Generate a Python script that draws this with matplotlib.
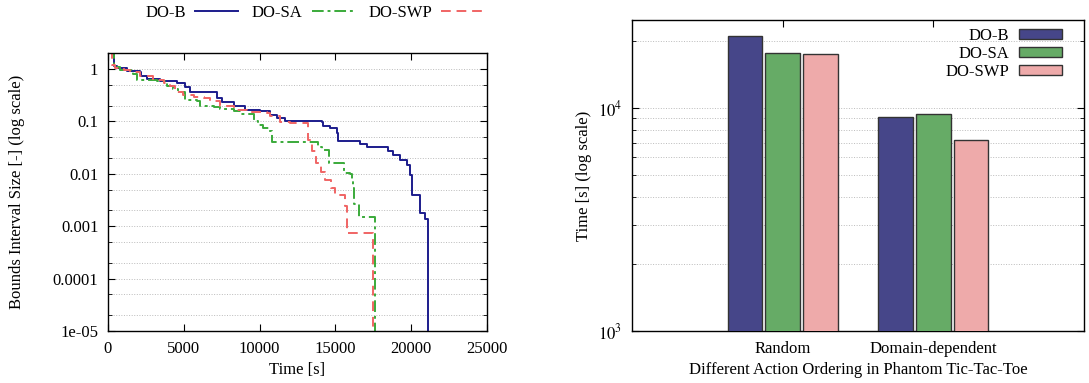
import numpy as np
import matplotlib.pyplot as plt
from matplotlib.ticker import LogLocator, FixedLocator, NullFormatter, FixedFormatter

plt.rcParams['font.family'] = ['Liberation Serif', 'DejaVu Serif']
plt.rcParams['mathtext.fontset'] = 'stix'
plt.rcParams['font.size'] = 12

# ---- left panel: bounds interval size over time (step curves) ----
dob_t = [0, 370, 590, 1250, 2130, 2200, 2570, 3450, 4100, 4540, 5090, 5420, 6740, 7180, 7500,
         8280, 9040, 10030, 10690, 11130, 11680, 13100, 14090, 14200, 14640, 15080, 15190,
         16400, 16650, 17060, 18370, 18500, 18810, 19250, 19690, 19950, 20060, 20460, 20570,
         20900, 21120, 21120]
dob_v = [2.0, 1.12, 1.05, 0.9, 0.86, 0.75, 0.65, 0.6, 0.58, 0.54, 0.45, 0.36, 0.36, 0.28, 0.23,
         0.2, 0.167, 0.16, 0.134, 0.116, 0.1, 0.1, 0.096, 0.08, 0.074, 0.06, 0.043,
         0.043, 0.037, 0.033, 0.032, 0.027, 0.023, 0.018, 0.015, 0.0096, 0.004, 0.004, 0.0018,
         0.0014, 0.0014, 1e-7]

dosa_t = [0, 370, 810, 1470, 1650, 1910, 2570, 3200, 3890, 4320, 4650, 5090, 5860, 6080, 6960,
          7400, 8280, 8710, 9590, 9600, 9920, 10250, 10650, 10800, 13430, 13870, 14090, 14530,
          14600, 15520, 15560, 15960, 16070, 16180, 16230, 16510, 16570, 17600, 17600]
dosa_v = [2.0, 1.1, 0.97, 0.97, 0.81, 0.62, 0.62, 0.58, 0.48, 0.41, 0.36, 0.26, 0.24, 0.2, 0.19,
          0.17, 0.155, 0.14, 0.14, 0.1, 0.087, 0.074, 0.067, 0.041, 0.041, 0.033, 0.029, 0.029,
          0.016, 0.016, 0.0103, 0.01, 0.0072, 0.0053, 0.0026, 0.0026, 0.0015, 0.0015, 1e-7]

doswp_t = [0, 260, 480, 1030, 1470, 2130, 3000, 3670, 4100, 4430, 4980, 5640, 6300, 6740, 7400,
           8280, 9150, 10030, 10470, 10690, 11350, 12000, 13100, 13210, 13430, 13720, 14030,
           14310, 14700, 14970, 15520, 15630, 15740, 17320, 17450, 17450]
doswp_v = [2.0, 1.2, 1.05, 0.97, 0.86, 0.72, 0.62, 0.54, 0.48, 0.37, 0.32, 0.29, 0.28, 0.24, 0.2,
           0.167, 0.15, 0.149, 0.144, 0.125, 0.096, 0.093, 0.093, 0.045, 0.027, 0.016, 0.0106,
           0.0077, 0.0053, 0.004, 0.004, 0.0024, 0.00074, 0.00074, 0.0004, 1e-7]

# ---- right panel: total time per action ordering ----
orderings = ['Random', 'Domain-dependent']
time_dob = [21000, 9100]
time_dosa = [17600, 9400]
time_doswp = [17500, 7170]

fig = plt.figure(figsize=(10.89, 3.83), dpi=100)

ax1 = fig.add_axes([108 / 1089, 52 / 383, 379 / 1089, 278 / 383])
ax1.step(dob_t, dob_v, where='post', color='#1c1c8c', lw=1.4, label='DO-B')
ax1.step(dosa_t, dosa_v, where='post', color='#3aaa3a', lw=1.4, dashes=(6, 2, 1.5, 2), label='DO-SA')
ax1.step(doswp_t, doswp_v, where='post', color='#f06464', lw=1.4, dashes=(5, 3), label='DO-SWP')
ax1.set_yscale('log')
ax1.set_xlim(0, 25000)
ax1.set_ylim(1e-5, 2.02)
ax1.set_xticks([0, 5000, 10000, 15000, 20000, 25000])
ax1.yaxis.set_major_locator(FixedLocator([1e-5, 1e-4, 1e-3, 1e-2, 1e-1, 1]))
ax1.yaxis.set_major_formatter(FixedFormatter(['1e-05', '0.0001', '0.001', '0.01', '0.1', '1']))
ax1.yaxis.set_minor_locator(LogLocator(base=10, subs=(2.0, 5.0), numticks=20))
ax1.yaxis.set_minor_formatter(NullFormatter())
ax1.grid(True, axis='y', which='both', color='#bbbbbb', ls=':', lw=0.7)
ax1.tick_params(direction='in', top=True, right=True, which='both')
ax1.tick_params(which='major', length=5, pad=7)
ax1.tick_params(which='minor', length=3)
ax1.set_xlabel('Time [s]', labelpad=4)
ax1.set_ylabel('Bounds Interval Size [-] (log scale)', labelpad=20)
for s in ax1.spines.values():
    s.set_linewidth(1.0)

fig.legend(loc='center', bbox_to_anchor=(315 / 1089, 1 - 13 / 383), ncol=3, frameon=False,
           markerfirst=False, handlelength=2.6, handletextpad=0.55, columnspacing=0.8,
           borderpad=0)

ax2 = fig.add_axes([632 / 1089, 52 / 383, 452 / 1089, 311 / 383])
x = np.arange(1, len(orderings) + 1)
w = 0.228
ax2.bar(x - 0.25, time_dob, w, color='#464689', edgecolor='#333333', lw=1, label='DO-B', zorder=3)
ax2.bar(x, time_dosa, w, color='#66ab66', edgecolor='#333333', lw=1, label='DO-SA', zorder=3)
ax2.bar(x + 0.25, time_doswp, w, color='#eeaaaa', edgecolor='#333333', lw=1, label='DO-SWP', zorder=3)
ax2.set_yscale('log')
ax2.set_xlim(0, 3)
ax2.set_ylim(1000, 24800)
ax2.set_xticks(x)
ax2.set_xticklabels(orderings)
ax2.yaxis.set_major_locator(FixedLocator([1e3, 1e4]))
ax2.yaxis.set_major_formatter(FixedFormatter([r'$10^3$', r'$10^4$']))
ax2.yaxis.set_minor_locator(LogLocator(base=10, subs=np.arange(2, 10), numticks=20))
ax2.yaxis.set_minor_formatter(NullFormatter())
ax2.grid(True, axis='y', which='both', color='#bbbbbb', ls=':', lw=0.7, zorder=0)
ax2.tick_params(direction='in', top=True, right=True, which='both')
ax2.tick_params(which='major', length=5, pad=7)
ax2.tick_params(which='minor', length=3)
ax2.set_xlabel('Different Action Ordering in Phantom Tic-Tac-Toe', labelpad=4)
ax2.set_ylabel('Time [s] (log scale)', labelpad=4)
for s in ax2.spines.values():
    s.set_linewidth(1.0)
ax2.legend(loc='upper right', bbox_to_anchor=(0.97, 1.0), frameon=False, markerfirst=False,
           handlelength=2.6, handleheight=0.55, labelspacing=0.1, borderpad=0, handletextpad=0.6)

fig.savefig('out.png', dpi=100)
